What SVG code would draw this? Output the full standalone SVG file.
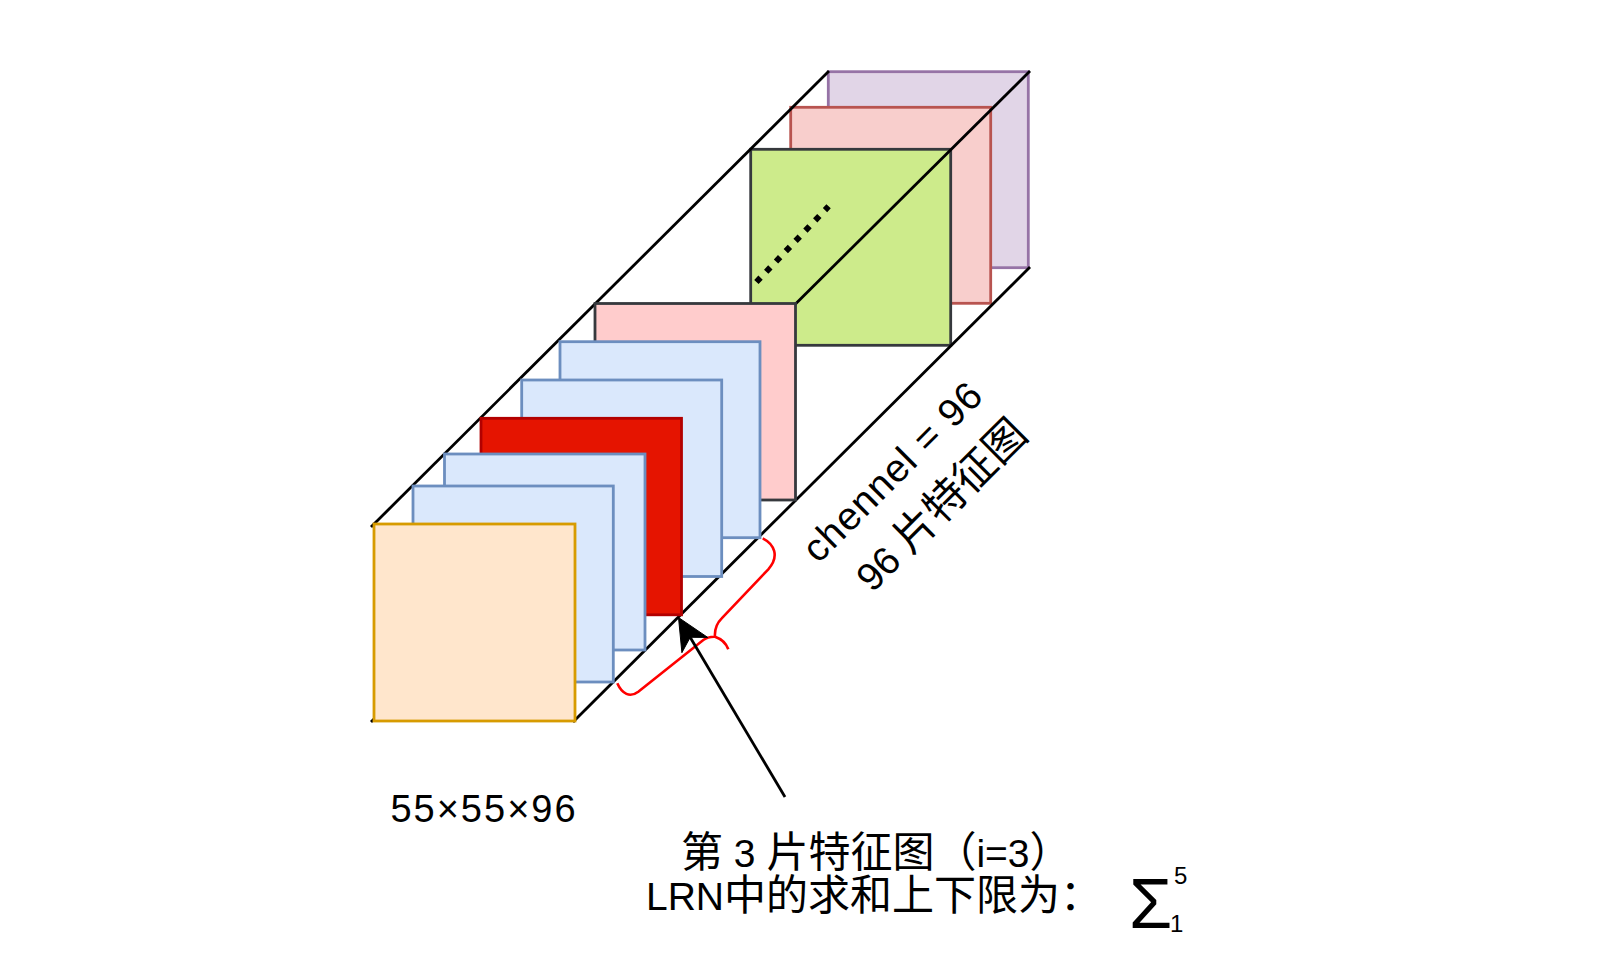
<svg xmlns="http://www.w3.org/2000/svg" width="1600" height="960" viewBox="0 0 1600 960">
<style>
.sq{stroke-width:2.8}
.blue{fill:#dae8fc;stroke:#6c8ebf}
.edge{stroke:#000;stroke-width:2.8;fill:none}
.t{font-family:"Liberation Sans","Noto Sans CJK SC",sans-serif;font-size:39px;fill:#000}
.cjk{font-family:"Noto Sans CJK SC",sans-serif;font-size:42px}
</style>
<rect width="1600" height="960" fill="#fff"/>
<g id="hidden-edge">
<line class="edge" x1="371" y1="722" x2="829" y2="267"/>
</g>
<g id="slice-96"><rect class="sq" x="828.3" y="71.7" width="200" height="196" fill="#e1d5e7" stroke="#9673a6"/></g>
<g id="slice-95"><rect class="sq" x="790.7" y="107.3" width="200" height="196" fill="#f8cecc" stroke="#b85450"/></g>
<g id="slice-94"><rect class="sq" x="750.7" y="149.3" width="200" height="196" fill="#cdeb8b" stroke="#36393d"/>
<line x1="756.4" y1="282" x2="828.6" y2="206.3" stroke="#000" stroke-width="6" stroke-dasharray="6 8.2"/></g>
<g id="connectors">
<line class="edge" x1="371" y1="527" x2="829" y2="71"/>
<line class="edge" x1="573" y1="525" x2="1030" y2="71"/>
<line class="edge" x1="573" y1="722" x2="1030" y2="267"/>
</g>
<g id="slice-7"><rect class="sq" x="595" y="303.5" width="200.5" height="196.5" fill="#ffcccc" stroke="#36393d"/></g>
<g id="slice-6"><rect class="sq blue" x="560" y="341.7" width="200" height="196"/></g>
<g id="slice-5"><rect class="sq blue" x="521.7" y="380" width="200" height="196.5"/></g>
<g id="slice-3"><rect class="sq" x="481" y="418.3" width="200.5" height="196.5" fill="#e51400" stroke="#b20000"/></g>
<g id="slice-2"><rect class="sq blue" x="444.5" y="454" width="200.5" height="196"/></g>
<g id="slice-1"><rect class="sq blue" x="413" y="486" width="200.3" height="196"/></g>
<g id="slice-front"><rect class="sq" x="374" y="524" width="201" height="197" fill="#ffe6cc" stroke="#d79b00"/></g>
<g id="brace">
<path d="M762.7,538.3 C774,544 780,556 768.3,569.3 L721.7,618.3 C716,624 714.5,630 715,636.7 C722,639 726,643 728.3,649.3 M715,636.7 C710,636.5 706,638 703.3,640 L638.3,691.7 C630,698 622,694 617.3,683.3" fill="none" stroke="#ff0000" stroke-width="2.6"/>
</g>
<g id="arrow">
<line x1="785" y1="797" x2="690" y2="637" stroke="#000" stroke-width="2.8"/>
<path d="M678.5,617.5 L707.7,637.4 L690.2,637.3 L681.9,652.7 Z" fill="#000" stroke="#000" stroke-width="1"/>
</g>
<g id="label-size">
<text class="t" x="484" y="822" text-anchor="middle" style="font-size:38px;letter-spacing:2px">55×55×96</text>
</g>
<g id="label-channel" transform="translate(926,498) rotate(-45)">
<text class="t" x="-5" y="-29" text-anchor="middle" style="letter-spacing:1px">chennel = 96</text>
<text class="t" x="5.7" y="29.7" text-anchor="middle">96 <tspan class="cjk">片特征图</tspan></text>
</g>
<g id="label-lrn">
<text class="t" x="681" y="867"><tspan class="cjk">第</tspan> 3 <tspan class="cjk">片特征图（</tspan>i=3<tspan class="cjk">）</tspan></text>
<text class="t" x="646" y="910">LRN<tspan class="cjk">中的求和上下限为：</tspan></text>
<text class="t" x="1129" y="928" style="font-size:70px">Σ</text>
<text class="t" x="1174" y="884" style="font-size:24px">5</text>
<text class="t" x="1170" y="932" style="font-size:24px">1</text>
</g>
</svg>
